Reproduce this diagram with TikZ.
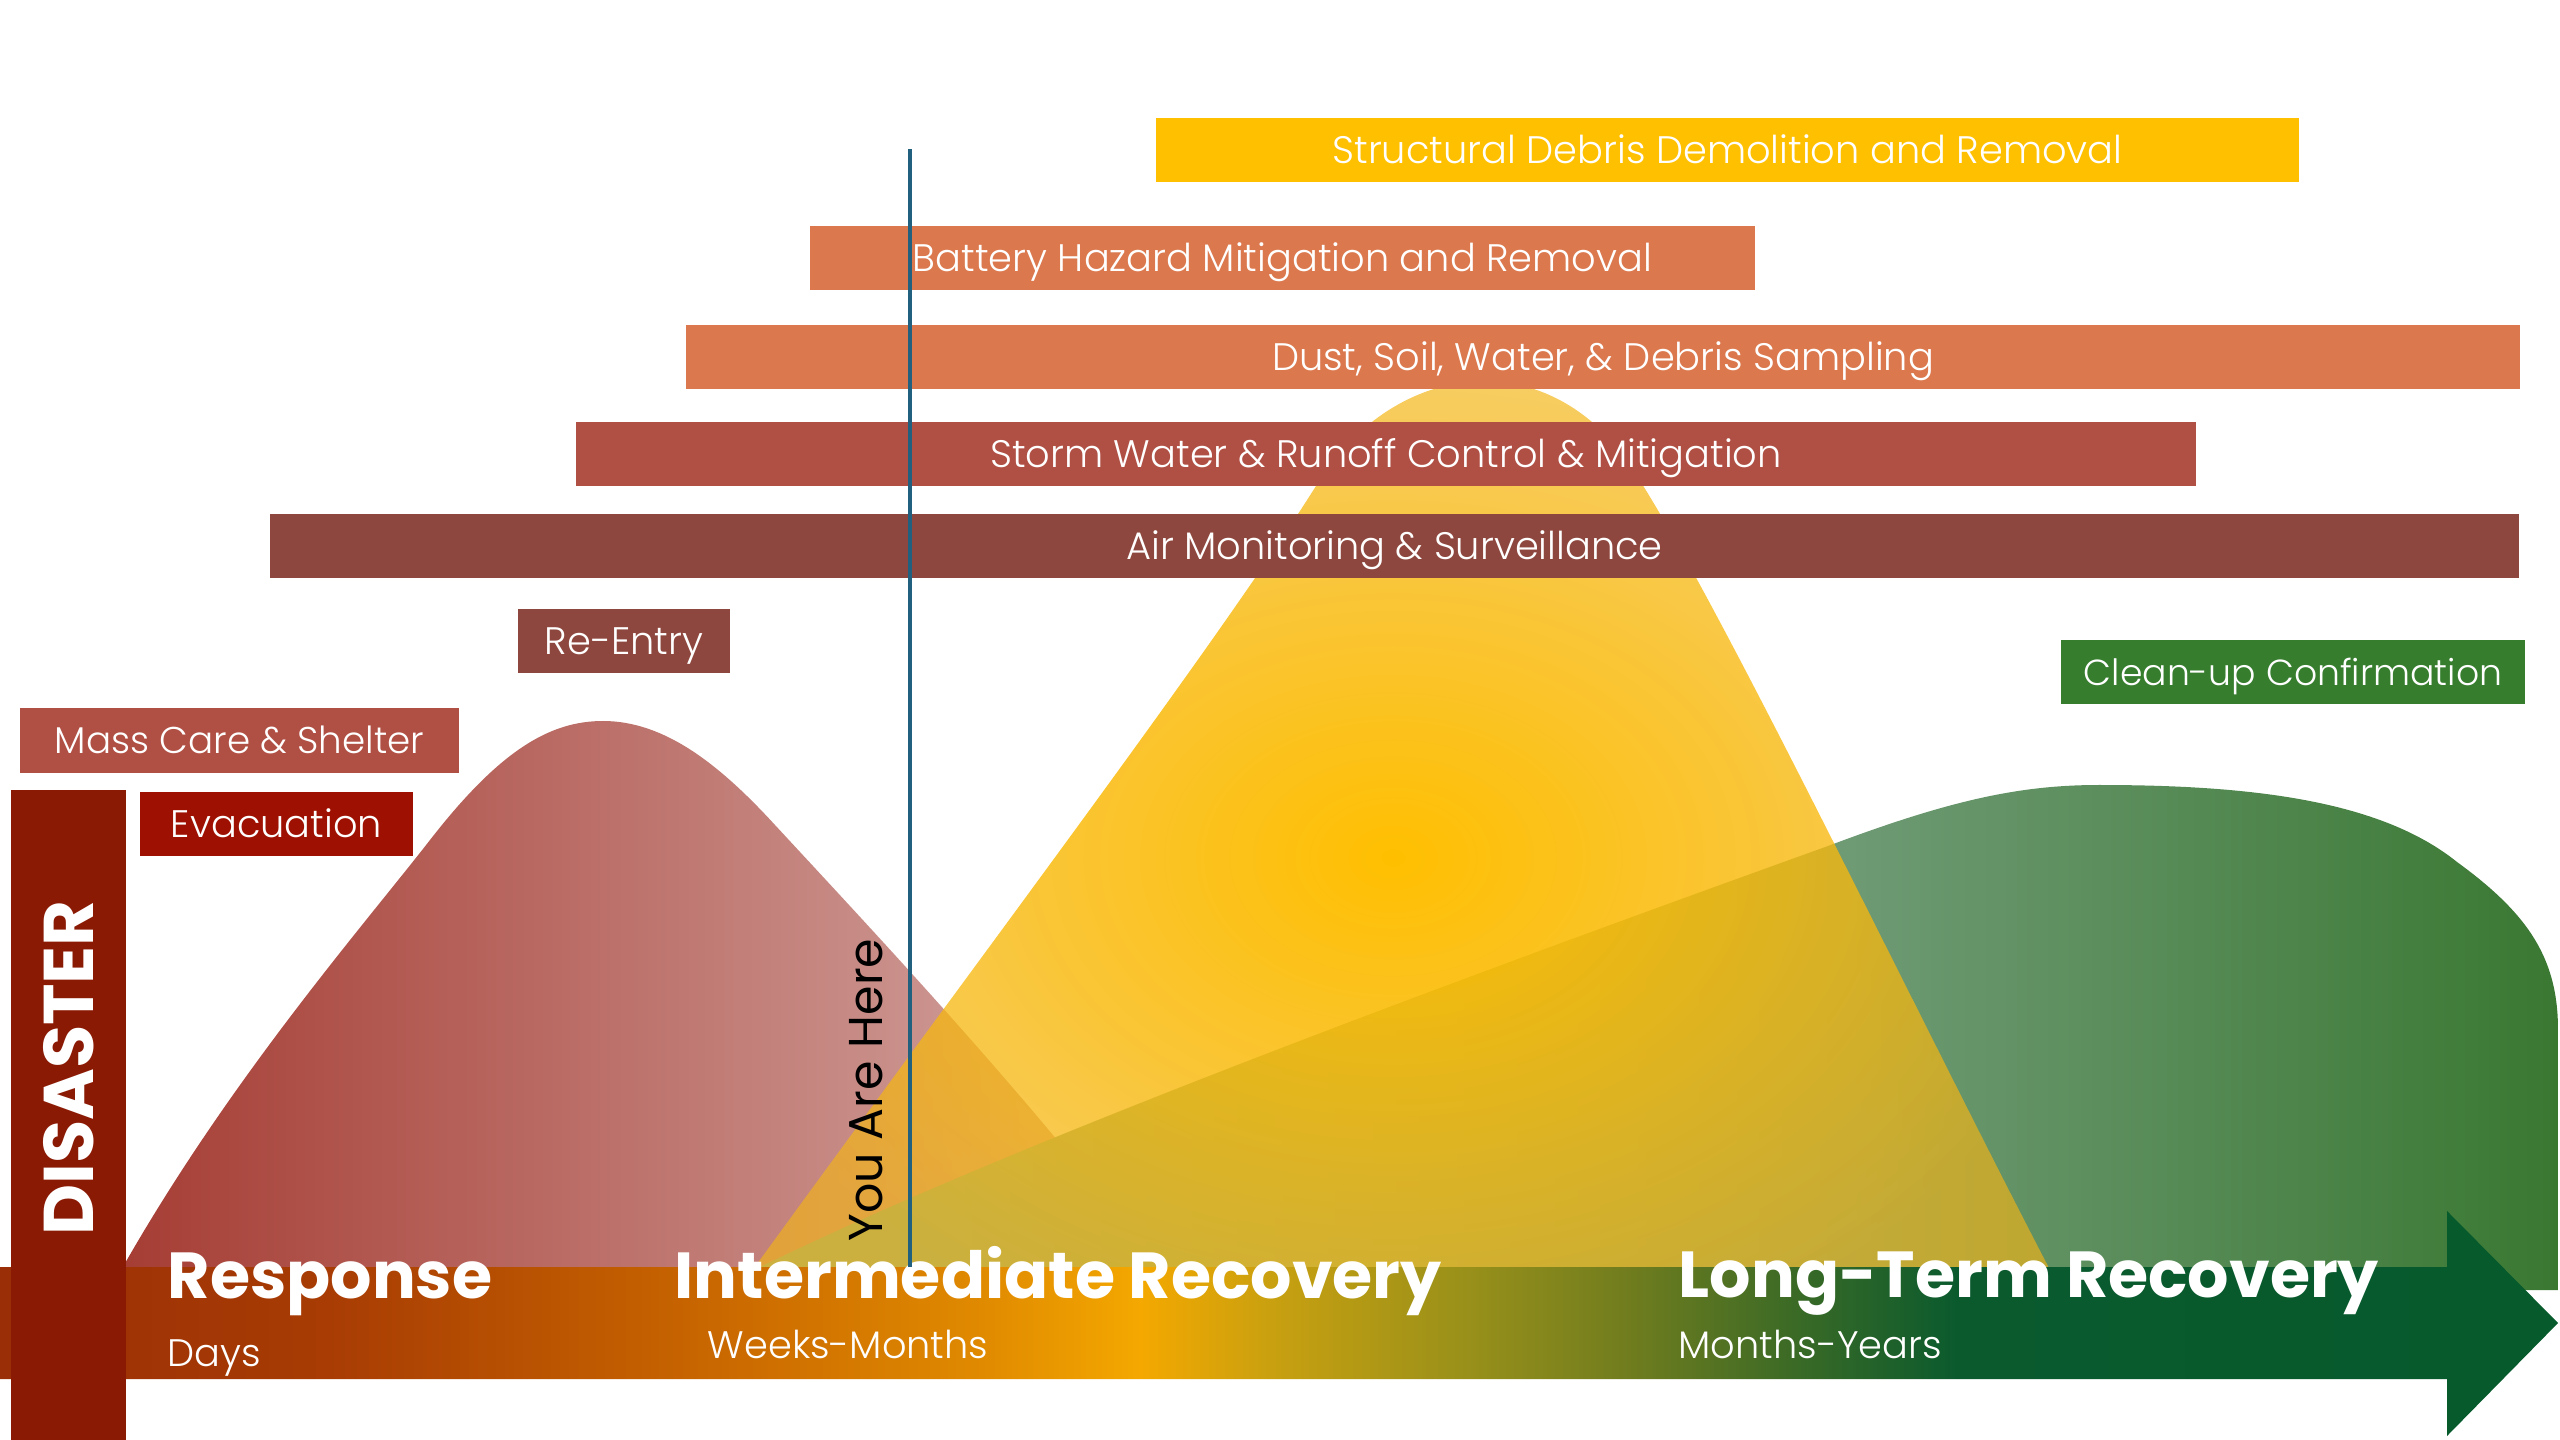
\documentclass[tikz,border=0pt]{standalone}
\usepackage{fontspec}
\setmainfont{Poppins}
\newfontfamily\lightfont{Poppins Light}
\usetikzlibrary{fadings}

\definecolor{golden}{HTML}{FFC000}
\definecolor{rust}{HTML}{DB784D}
\definecolor{brick}{HTML}{B04F44}
\definecolor{oxblood}{HTML}{8E473E}
\definecolor{evacred}{HTML}{9E1102}
\definecolor{disred}{HTML}{8B1A05}
\definecolor{cleangreen}{HTML}{367D2E}
\definecolor{hereline}{HTML}{21607F}
\definecolor{redA}{HTML}{A53C33}
\definecolor{redB}{HTML}{B2574F}
\definecolor{redC}{HTML}{D6ACA8}
\definecolor{yelC}{HTML}{FFBF00}
\definecolor{yelE}{HTML}{F2B418}
\definecolor{grA}{HTML}{86AC8C}
\definecolor{grB}{HTML}{6E9A74}
\definecolor{grC}{HTML}{3A7832}
\definecolor{bandA}{HTML}{9A2E06}
\definecolor{bandB}{HTML}{A83C04}
\definecolor{bandC}{HTML}{C46000}
\definecolor{bandD}{HTML}{E08A00}
\definecolor{bandE}{HTML}{F4A800}
\definecolor{bandF}{HTML}{C8A010}
\definecolor{bandG}{HTML}{98901A}
\definecolor{bandH}{HTML}{6F7C1E}
\definecolor{bandI}{HTML}{3A6A26}
\definecolor{bandJ}{HTML}{0A5A2E}
\definecolor{bandK}{HTML}{065A2C}

\pgfdeclarehorizontalshading{timeband}{100bp}{color(0bp)=(bandA); color(25bp)=(bandA); color(31.4bp)=(bandB); color(37.8bp)=(bandC); color(44.2bp)=(bandD); color(47.3bp)=(bandE); color(49.9bp)=(bandF); color(53.7bp)=(bandG); color(56.9bp)=(bandH); color(60.1bp)=(bandI); color(63.3bp)=(bandJ); color(75bp)=(bandK); color(100bp)=(bandK)}
\pgfdeclarehorizontalshading{greenfill}{100bp}{color(0bp)=(grA); color(25bp)=(grA); color(55.3bp)=(grB); color(75bp)=(grC); color(100bp)=(grC)}
\pgfdeclareradialshading{yellowglow}{\pgfpoint{0bp}{0bp}}{color(0bp)=(yelC); color(25bp)=(yelE); color(50bp)=(yelE)}
\tikzfading[name=yellowfade, inner color=transparent!0, outer color=transparent!35]

\begin{document}
\begin{tikzpicture}[x=0.01cm, y=-0.01cm,
		bar/.style={rectangle, inner sep=0pt, minimum height=0.64cm, text=white,
			font=\lightfont\fontsize{10.9}{12}\selectfont, text height=7.6pt, text depth=0pt},
		phase/.style={anchor=base west, inner sep=0pt, text=white, font=\bfseries\fontsize{18.5}{20}\selectfont},
		span/.style={anchor=base west, inner sep=0pt, text=white, font=\lightfont\fontsize{10.9}{12}\selectfont}]
		\useasboundingbox (0,0) rectangle (2560,1440);
		
		% response, intermediate and long-term curves
		\shade[left color=redA, middle color=redB, right color=redC]
			(110,1290) .. controls (220,1090) and (360,930) .. (430,840)
			.. controls (500,750) and (550,721) .. (603,721)
			.. controls (665,721) and (720,765) .. (775,825)
			.. controls (900,960) and (1050,1120) .. (1175,1290) -- cycle;
		\shade[shading=greenfill]
			(760,1267) .. controls (1000,1150) and (1400,1000) .. (1828,846)
			.. controls (1950,800) and (2020,785) .. (2099,785)
			.. controls (2250,785) and (2380,800) .. (2457,862)
			.. controls (2530,915) and (2558,960) .. (2558,1030)
			-- (2558,1290) -- (760,1290) -- cycle;
		\shade[shading=yellowglow, path fading=yellowfade]
			(677,1375) -- (755,1267) .. controls (1000,930) and (1220,640) .. (1320,480)
			.. controls (1390,370) and (1530,340) .. (1620,450)
			.. controls (1700,560) and (1900,980) .. (2049,1267) -- (2109,1375) -- cycle;
		
		\node[bar, fill=golden, minimum width=11.43cm] (debris) at (1727.5,150) {Structural Debris Demolition and Removal};
		\node[bar, fill=rust, minimum width=9.45cm] (battery) at (1282.5,258) {Battery Hazard Mitigation and Removal};
		\node[bar, fill=rust, minimum width=18.32cm] (sampling) at (1603,357) {Dust, Soil, Water, \& Debris Sampling};
		\node[bar, fill=brick, minimum width=16.2cm] (storm) at (1386,454) {Storm Water \& Runoff Control \& Mitigation};
		\node[bar, fill=oxblood, minimum width=22.47cm] (air) at (1394.5,546) {Air Monitoring \& Surveillance};
		\node[bar, fill=oxblood, minimum width=2.12cm] (reentry) at (624,641) {Re-Entry};
		\node[bar, fill=brick, minimum width=4.39cm, font=\lightfont\fontsize{10.6}{12}\selectfont] (shelter) at (239.5,740.5) {Mass Care \& Shelter};
		\node[bar, fill=evacred, minimum width=2.73cm] (evac) at (276.5,824) {Evacuation};
		\node[bar, fill=cleangreen, minimum width=4.64cm, font=\lightfont\fontsize{10.3}{12}\selectfont] (cleanup) at (2293,672) {Clean-up Confirmation};
		
		\shade[shading=timeband] (0,1267) -- (2447,1267) -- (2447,1211) -- (2558,1323)
			-- (2447,1436) -- (2447,1379) -- (0,1379) -- cycle;
		\fill[disred] (11,790) rectangle (126,1440);
		\node[rotate=90, inner sep=0pt, text=white, font=\bfseries\fontsize{20}{22}\selectfont] (disaster) at (68.5,1068) {DISASTER};
		
		\node[phase] (response) at (167,1298) {Response};
		\node[span] (days) at (167,1366) {Days};
		\node[phase] (intermediate) at (674,1298) {Intermediate Recovery};
		\node[span] (weeks) at (707,1358) {Weeks-Months};
		\node[phase] (longterm) at (1678,1297) {Long-Term Recovery};
		\node[span] (years) at (1678,1358) {Months-Years};
		
		\coordinate (here top) at (910,149);
		\coordinate (here bottom) at (910,1267);
		\draw[hereline, line width=1pt] (here top) -- (here bottom);
		\node[rotate=90, inner sep=0pt, font=\fontsize{13.5}{15}\selectfont] (here) at (866,1090) {You Are Here};
	\end{tikzpicture}
\end{document}
